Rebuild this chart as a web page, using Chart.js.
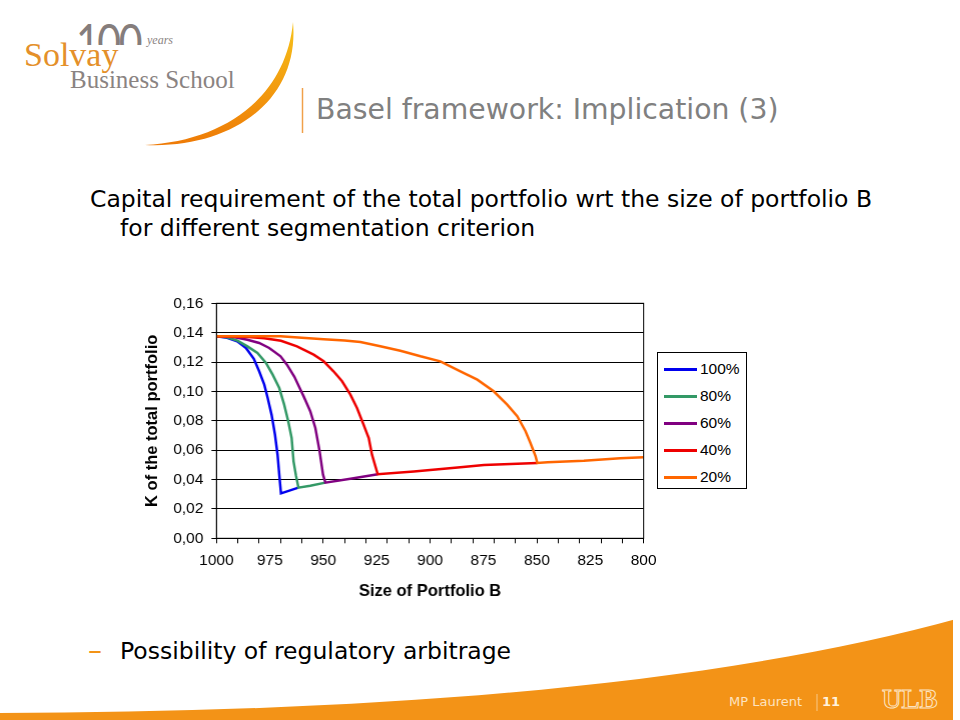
<!DOCTYPE html>
<html>
<head>
<meta charset="utf-8">
<script src="https://cdn.jsdelivr.net/npm/chart.js@4.4.1/dist/chart.umd.min.js"></script>
<style>
  body { margin: 0; background: #fff; }
  #slide { position: relative; width: 960px; height: 720px; overflow: hidden; background: #fff; font-family: 'DejaVu Sans', sans-serif; }
  .txt { position: absolute; white-space: nowrap; line-height: 1; }
  #chartBox { position: absolute; left: 140px; top: 286px; width: 523.6px; height: 319px; }
  #legendBox { position: absolute; left: 657px; top: 352px; width: 88px; height: 135px; border: 1px solid #000; background: #fff;
               font-family: 'Liberation Sans', Arial, sans-serif; font-size: 15.5px; }
  .legItem { position: absolute; left: 6px; height: 18px; line-height: 18px; }
  .legLine { position: absolute; left: 0; top: 7.5px; width: 33px; height: 3px; }
  .legText { position: absolute; left: 36px; top: 0; }
</style>
</head>
<body>
<div id="slide">
  <svg width="960" height="720" style="position:absolute;left:0;top:0">
    <defs>
      <linearGradient id="arcGrad" x1="0" y1="0" x2="0" y2="1">
        <stop offset="0" stop-color="#f7c21a"/>
        <stop offset="1" stop-color="#ee7a06"/>
      </linearGradient>
    </defs>
    <path d="M145,145 C232,149 300,100 293,22 C286,96 226,141 145,145 Z" fill="url(#arcGrad)"/>
    <path d="M0,713 C350,712 700,690 960,618 L953,620 L953,720 L0,720 Z" fill="#f39317"/>
    <rect x="953" y="600" width="7" height="120" fill="#fff"/>
    <line x1="302.5" y1="88" x2="302.5" y2="133" stroke="#f0a04a" stroke-width="1.5"/>
    <line x1="817" y1="694" x2="817" y2="711" stroke="#f8c888" stroke-width="1"/>
  </svg>

  <!-- logo -->
  <div style="position:absolute;left:76px;top:13px;width:72px;height:32px;overflow:hidden">
    <div class="txt" style="left:0;top:3px;font-family:Lato,'Liberation Sans',sans-serif;font-weight:400;font-size:50px;color:#857d7c;letter-spacing:-3px;transform:scaleX(0.82);transform-origin:left top">100</div>
  </div>
  <div class="txt" style="left:147px;top:34px;font-family:'Liberation Serif',serif;font-style:italic;font-size:12px;color:#8a8382">years</div>
  <div class="txt" style="left:24px;top:38px;font-family:'Liberation Serif',serif;font-size:34px;color:#e4902a">Solvay</div>
  <div class="txt" style="left:70px;top:67px;font-family:'Liberation Serif',serif;font-size:25px;color:#8a8382">Business School</div>

  <div class="txt" style="left:316px;top:96px;font-size:28.3px;color:#808080">Basel framework: Implication (3)</div>

  <div class="txt" style="left:90px;top:188px;font-size:23.5px;color:#000">Capital requirement of the total portfolio wrt the size of portfolio B</div>
  <div class="txt" style="left:120px;top:217px;font-size:23.5px;color:#000">for different segmentation criterion</div>

  <div class="txt" style="left:88px;top:637px;font-size:28px;color:#f39317">–</div>
  <div class="txt" style="left:120px;top:640px;font-size:23.5px;color:#000">Possibility of regulatory arbitrage</div>

  <div class="txt" style="left:729px;top:695px;font-size:13px;color:#fde3c0">MP Laurent</div>
  <div class="txt" style="left:822px;top:695px;font-size:13px;font-weight:bold;color:#fff3de">11</div>
  <div class="txt" style="left:882px;top:686px;font-family:'Liberation Serif',serif;font-weight:bold;font-size:27px;color:transparent;-webkit-text-stroke:1px #fde3c0">ULB</div>

  <div id="chartBox"><canvas id="lineGraph"></canvas></div>
  <div id="legendBox"></div>
</div>

<script>
// SERIES DATA (SIZE OF PORTFOLIO B -> K OF TOTAL PORTFOLIO)
const seriesLabels = ['100%', '80%', '60%', '40%', '20%'];
const seriesColors = ['#0000ee', '#339966', '#800080', '#ee0000', '#ff6600'];

const size100 = [1000, 995, 990.3, 986.2, 982.5, 980, 977.6, 976, 974.2, 972.6, 971.4, 970.6, 969.8, 961.6];
const k100 = [0.1375, 0.1365, 0.1341, 0.1296, 0.1222, 0.1137, 0.1046, 0.0955, 0.0842, 0.0705, 0.0569, 0.0433, 0.0306, 0.0345];

const size80 = [1000, 995, 990.2, 985.5, 980.8, 976.8, 973.7, 970.6, 968.3, 966.4, 964.8, 963.9, 962.8, 961.6, 956.1, 949];
const k80 = [0.1375, 0.1368, 0.1346, 0.1307, 0.1262, 0.1194, 0.1114, 0.1023, 0.091, 0.0797, 0.0683, 0.0524, 0.043, 0.0345, 0.0358, 0.0379];

const size60 = [1000, 992, 985.5, 980, 975.3, 970, 967, 963.5, 959.2, 956.1, 953.7, 951.7, 950.1, 949, 935.8, 924.5];
const k60 = [0.1375, 0.137, 0.1352, 0.133, 0.1296, 0.1239, 0.1182, 0.11, 0.0967, 0.0865, 0.0751, 0.0592, 0.0433, 0.0379, 0.0409, 0.0436];

const size40 = [1000, 985, 977.6, 969.8, 962.3, 954.5, 949.8, 945.2, 941.2, 937.3, 934.2, 931.1, 928.7, 927.2, 925.8, 924.5, 907.6, 885.8, 874.8, 849.8];
const k40 = [0.1375, 0.137, 0.1362, 0.1345, 0.1307, 0.125, 0.1205, 0.1137, 0.1069, 0.0978, 0.0887, 0.0773, 0.0683, 0.0569, 0.05, 0.0436, 0.0454, 0.0483, 0.0499, 0.0513];

const size20 = [1000, 985, 970, 960, 949.8, 940, 932.6, 923.3, 913.9, 904.5, 895.2, 885.8, 877.9, 870.2, 863.9, 859.2, 855.3, 853, 850.6, 849.8, 845, 828, 811, 800];
const k20 = [0.1375, 0.1376, 0.1375, 0.1365, 0.1355, 0.1347, 0.1337, 0.1307, 0.1277, 0.1239, 0.1205, 0.1137, 0.108, 0.1001, 0.091, 0.0831, 0.0729, 0.0649, 0.0558, 0.0513, 0.0517, 0.0528, 0.0545, 0.0551];

// AXIS TICKS
const sizeLabels = [1000, 975, 950, 925, 900, 875, 850, 825, 800];
const sizeTickMarks = [1000, 990, 980, 970, 960, 950, 940, 930, 920, 910, 900, 890, 880, 870, 860, 850, 840, 830, 820, 810, 800];
const kTicks = [0, 0.02, 0.04, 0.06, 0.08, 0.10, 0.12, 0.14, 0.16];

const allSizes = [size100, size80, size60, size40, size20];
const allK = [k100, k80, k60, k40, k20];

function toPoints(xs, ys) {
    return xs.map((x, i) => ({ x: x, y: ys[i] }));
}

// LEGEND BOX
function buildLegend() {
    const box = document.getElementById('legendBox');
    seriesLabels.forEach((label, i) => {
        const item = document.createElement('div');
        item.className = 'legItem';
        item.style.top = (7 + i * 27) + 'px';
        item.innerHTML = `<div class="legLine" style="background:${seriesColors[i]}"></div><div class="legText">${label}</div>`;
        box.appendChild(item);
    });
}

// PLOT FRAME
const framePlugin = {
    id: 'frame',
    afterDraw(chart) {
        const { ctx, chartArea } = chart;
        ctx.save();
        ctx.strokeStyle = '#000';
        ctx.lineWidth = 1;
        ctx.strokeRect(chartArea.left, chartArea.top, chartArea.right - chartArea.left, chartArea.bottom - chartArea.top);
        ctx.restore();
    }
};

function showLineGraph() {
    const ctx = document.getElementById('lineGraph');
    new Chart(ctx, {
        type: 'line',
        data: {
            datasets: seriesLabels.map((label, i) => ({
                label: label,
                data: toPoints(allSizes[i], allK[i]),
                borderColor: seriesColors[i],
                backgroundColor: seriesColors[i],
                borderWidth: 2.5,
                pointRadius: 0,
                tension: 0,
                fill: false,
                order: seriesLabels.length - i
            }))
        },
        options: {
            responsive: true,
            maintainAspectRatio: false,
            animation: false,
            layout: { padding: 0 },
            plugins: { legend: { display: false }, tooltip: { enabled: false } },
            scales: {
                x: {
                    type: 'linear',
                    reverse: true,
                    min: 800,
                    max: 1000,
                    afterBuildTicks: (scale) => {
                        const vals = Array.from(new Set(sizeTickMarks.concat(sizeLabels))).sort((a, b) => b - a);
                        scale.ticks = vals.map(v => ({ value: v }));
                    },
                    afterFit: (scale) => { scale.height = 66.7; },
                    ticks: {
                        autoSkip: false,
                        maxRotation: 0,
                        padding: 8,
                        color: '#000',
                        font: { family: "'Liberation Sans', Arial, sans-serif", size: 15.5 },
                        callback: (value) => sizeLabels.includes(value) ? String(value) : ''
                    },
                    grid: {
                        drawOnChartArea: false,
                        drawTicks: true,
                        tickLength: 5,
                        tickColor: (c) => (c.tick && sizeTickMarks.includes(c.tick.value)) ? '#000' : 'rgba(0,0,0,0)'
                    },
                    border: { display: true, color: '#000', width: 1 },
                    title: {
                        display: true,
                        text: 'Size of Portfolio B',
                        color: '#000',
                        font: { family: "'Liberation Sans', Arial, sans-serif", size: 16.5, weight: 'bold' },
                        padding: { top: 0, bottom: 3.4 }
                    }
                },
                y: {
                    min: 0,
                    max: 0.16,
                    afterBuildTicks: (scale) => { scale.ticks = kTicks.map(v => ({ value: v })); },
                    afterFit: (scale) => { scale.width = 76.3; },
                    ticks: {
                        padding: 8,
                        color: '#000',
                        font: { family: "'Liberation Sans', Arial, sans-serif", size: 15.5 },
                        callback: (value) => value.toFixed(2).replace('.', ',')
                    },
                    grid: { color: '#000', lineWidth: 1, drawTicks: true, tickLength: 5, tickColor: '#000' },
                    border: { display: true, color: '#000', width: 1 },
                    title: {
                        display: true,
                        text: 'K of the total portfolio',
                        color: '#000',
                        font: { family: "'Liberation Sans', Arial, sans-serif", size: 16.5, weight: 'bold' },
                        padding: { top: 2.4, bottom: 0 }
                    }
                }
            }
        },
        plugins: [framePlugin]
    });
}

window.onload = () => {
    buildLegend();
    showLineGraph();
};
</script>
</body>
</html>
